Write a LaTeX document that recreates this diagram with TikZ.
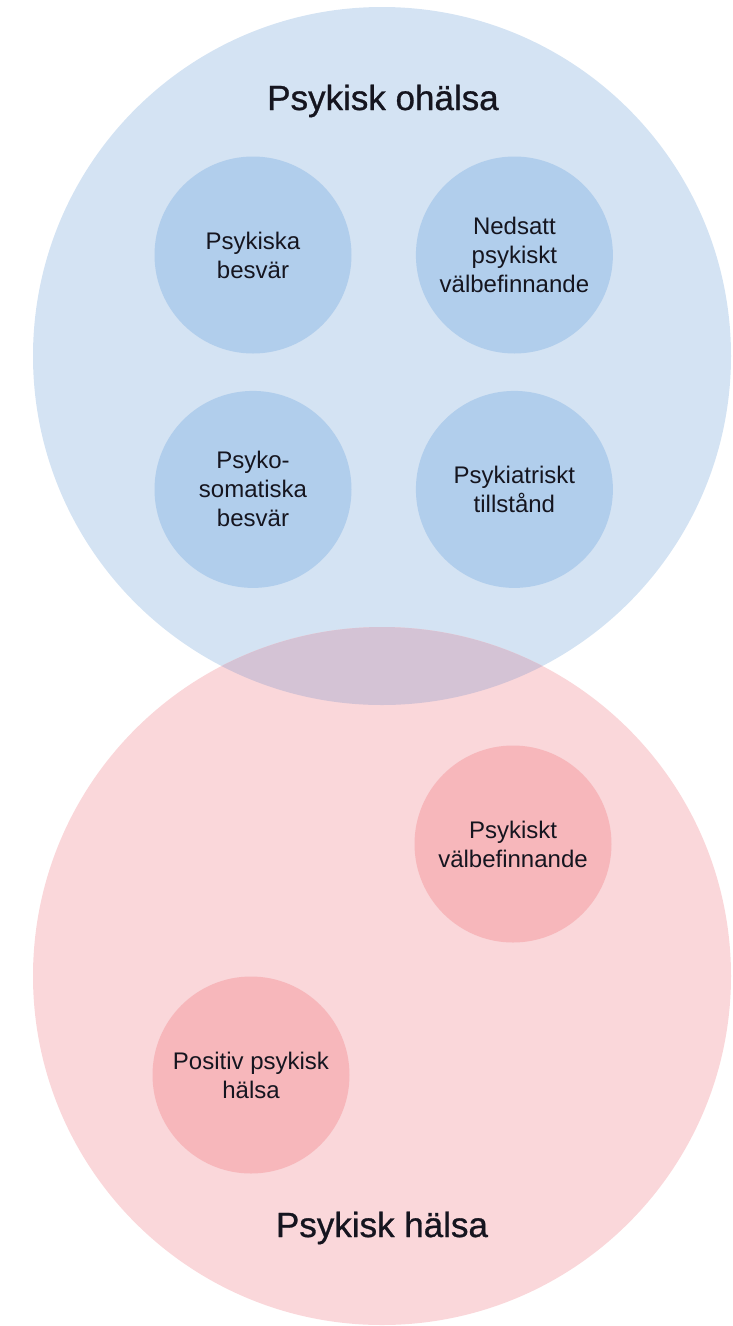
\documentclass[tikz,border=0pt]{standalone}
\usepackage{fontspec}
\setmainfont{Liberation Sans}
\newfontfamily\titlefont[FakeBold=0.8]{Liberation Sans}
\usepackage{tikz}
\usetikzlibrary{positioning}
\definecolor{ohalsabg}{HTML}{D4E3F3}
\definecolor{ohalsafg}{HTML}{B1CEEC}
\definecolor{halsabg}{HTML}{FAD7DA}
\definecolor{halsafg}{HTML}{F7B7BB}
\definecolor{overlapbg}{HTML}{D4C3D5}
\definecolor{textdark}{HTML}{15151F}

\begin{document}
\begin{tikzpicture}[x=1pt,y=-1pt]
\tikzstyle{big}=[circle,inner sep=0pt,minimum size=698pt];
\tikzstyle{small}=[circle,inner sep=0pt,minimum size=197pt,align=center,text=textdark,font=\fontsize{24}{29}\selectfont];
\tikzstyle{title}=[anchor=base,text=textdark,font=\titlefont\fontsize{35}{42}\selectfont];
\useasboundingbox (0,0) rectangle (733,1326);
% the two large circles and their overlap
\node (ohalsa) [big,fill=ohalsabg] at (382,356) {};
\node (halsa) [big,fill=halsabg] at (382,976) {};
\begin{scope}
\clip (382,356) circle (349);
\fill [overlapbg] (382,976) circle (349);
\end{scope}
\node (t1) [title] at (383,110) {Psykisk ohälsa};
\node (t2) [title] at (382,1237) {Psykisk hälsa};
% inner circles
\node (besvar) [small,fill=ohalsafg] at (253,255) {Psykiska\\besvär};
\node (nedsatt) [small,fill=ohalsafg,right=64pt of besvar] {Nedsatt\\psykiskt\\välbefinnande};
\node (psykosom) [small,fill=ohalsafg,below=37pt of besvar] {Psyko-\\somatiska\\besvär};
\node (tillstand) [small,fill=ohalsafg,right=64pt of psykosom] {Psykiatriskt\\tillstånd};
\node (valbef) [small,fill=halsafg] at (513,844) {Psykiskt\\välbefinnande};
\node (positiv) [small,fill=halsafg] at (251,1075) {Positiv psykisk\\hälsa};
\end{tikzpicture}
\end{document}
